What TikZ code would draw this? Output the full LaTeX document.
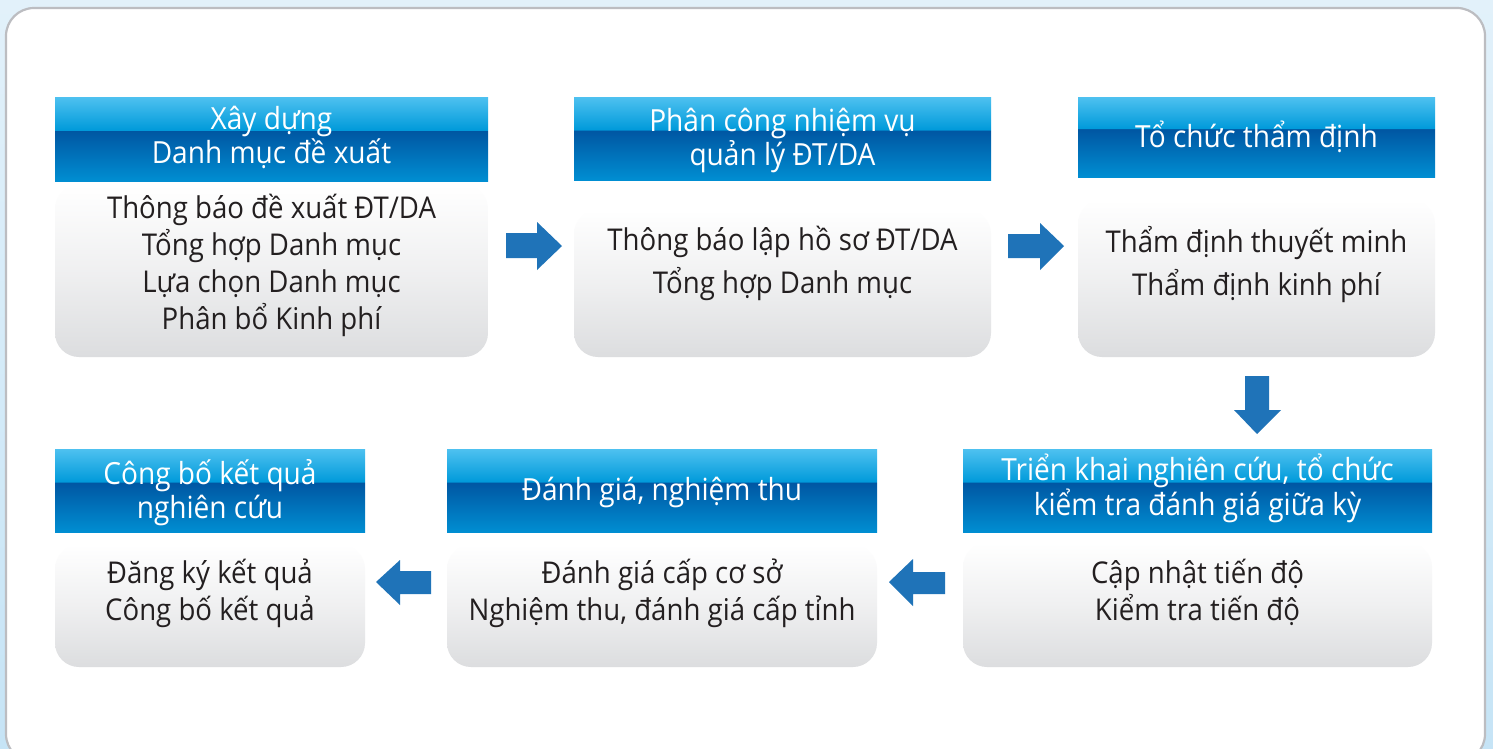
\documentclass[tikz,border=0pt]{standalone}
\usepackage{fontspec}
\setmainfont[FakeStretch=0.92]{Open Sans}
\definecolor{hdlight}{RGB}{78,193,240}
\definecolor{hdmid}{RGB}{0,154,218}
\definecolor{hddark}{RGB}{0,86,162}
\definecolor{hdbot}{RGB}{0,142,210}
\definecolor{bodygray}{RGB}{220,221,223}
\definecolor{arrowblue}{RGB}{31,115,184}
\definecolor{txt}{RGB}{35,31,32}
\definecolor{bgtop}{RGB}{226,241,250}
\definecolor{bgbot}{RGB}{198,228,246}
\definecolor{panelborder}{RGB}{188,189,193}
\pgfdeclareverticalshading{headshade}{100bp}{color(0bp)=(hdbot); color(25bp)=(hdbot); color(55bp)=(hddark); color(55.2bp)=(hdmid); color(75bp)=(hdlight); color(100bp)=(hdlight)}
\tikzset{
  headbar/.style={shape=rectangle, shading=headshade, draw=none, inner sep=0pt, outer sep=0pt},
  bodybox/.style={shape=rectangle, rounded corners=24pt, top color=white, bottom color=bodygray, middle color=white!55!bodygray, draw=none, inner sep=0pt, outer sep=0pt},
  headtext/.style={anchor=base, align=center, text=white, inner sep=0pt, font=\fontsize{30.5}{33.5}\selectfont},
  bodytext/.style={anchor=base, align=center, text=txt, inner sep=0pt, font=\fontsize{30}{37}\selectfont},
  bigarrow/.style={fill=arrowblue, draw=none}
}
\newcommand\flowcard[7]{%
  \node[bodybox, minimum width={#3-#2}, minimum height={#7-#6}, anchor=north west] (b#1) at (#2,#6) {};
  \node[headbar, minimum width={#3-#2}, minimum height={#5-#4}, anchor=north west] (h#1) at (#2,#4) {};
}
\begin{document}
\begin{tikzpicture}[x=1pt,y=-1pt]
\useasboundingbox (0,0) rectangle (1493,748);
\clip (0,0) rectangle (1493,748);
% background
\shade[top color=bgtop, bottom color=bgbot] (0,0) rectangle (1493,748);
\draw[panelborder, line width=2.2pt, fill=white, rounded corners=28pt] (6,8) rectangle (1485,762);

% cards
\flowcard{1}{55}{488}{97}{181}{185}{357}
\flowcard{2}{574}{991}{97}{180}{210}{357}
\flowcard{3}{1078}{1435}{97}{177}{200}{357}
\flowcard{4}{963}{1432}{449}{532}{543}{667}
\flowcard{5}{447}{877}{449}{532}{545}{667}
\flowcard{6}{55}{365}{449}{532}{545}{667}

% header texts (anchor = baseline of last line)
\node[headtext] (ht1) at (271.5,163) {Xây dựng\\Danh mục đề xuất};
\node[headtext] (ht2) at (782.5,165) {Phân công nhiệm vụ\\quản lý ĐT/DA};
\node[headtext] (ht3) at (1256.5,147) {Tổ chức thẩm định};
\node[headtext] (ht4) at (1197.5,515) {Triển khai nghiên cứu, tổ chức\\kiểm tra đánh giá giữa kỳ};
\node[headtext] (ht5) at (662,500) {Đánh giá, nghiệm thu};
\node[headtext] (ht6) at (210,518) {Công bố kết quả\\nghiên cứu};

% body texts (anchor = baseline of last line)
\node[bodytext] (bt1) at (271.5,329) {Thông báo đề xuất ĐT/DA\\Tổng hợp Danh mục\\Lựa chọn Danh mục\\Phân bổ Kinh phí};
\node[bodytext, font=\fontsize{30}{43}\selectfont] (bt2) at (782.5,293) {Thông báo lập hồ sơ ĐT/DA\\Tổng hợp Danh mục};
\node[bodytext, font=\fontsize{30}{43}\selectfont] (bt3) at (1256.5,295) {Thẩm định thuyết minh\\Thẩm định kinh phí};
\node[bodytext] (bt4) at (1197.5,620) {Cập nhật tiến độ\\Kiểm tra tiến độ};
\node[bodytext] (bt5) at (662,620) {Đánh giá cấp cơ sở\\Nghiệm thu, đánh giá cấp tỉnh};
\node[bodytext] (bt6) at (210,620) {Đăng ký kết quả\\Công bố kết quả};

% block arrows
\fill[bigarrow] (506,233) -- (537,233) -- (537,222) -- (562,246) -- (537,270) -- (537,258) -- (506,258) -- cycle;
\fill[bigarrow] (1008,234) -- (1040,234) -- (1040,223) -- (1064,246) -- (1040,270) -- (1040,258) -- (1008,258) -- cycle;
\fill[bigarrow] (1245,376) -- (1269,376) -- (1269,410) -- (1281,410) -- (1257,434) -- (1234,410) -- (1245,410) -- cycle;
\fill[bigarrow] (945,572) -- (913,572) -- (913,559) -- (889,582) -- (913,606) -- (913,594) -- (945,594) -- cycle;
\fill[bigarrow] (431,571) -- (400,571) -- (400,560) -- (376,582) -- (400,605) -- (400,594) -- (431,594) -- cycle;
\end{tikzpicture}
\end{document}
